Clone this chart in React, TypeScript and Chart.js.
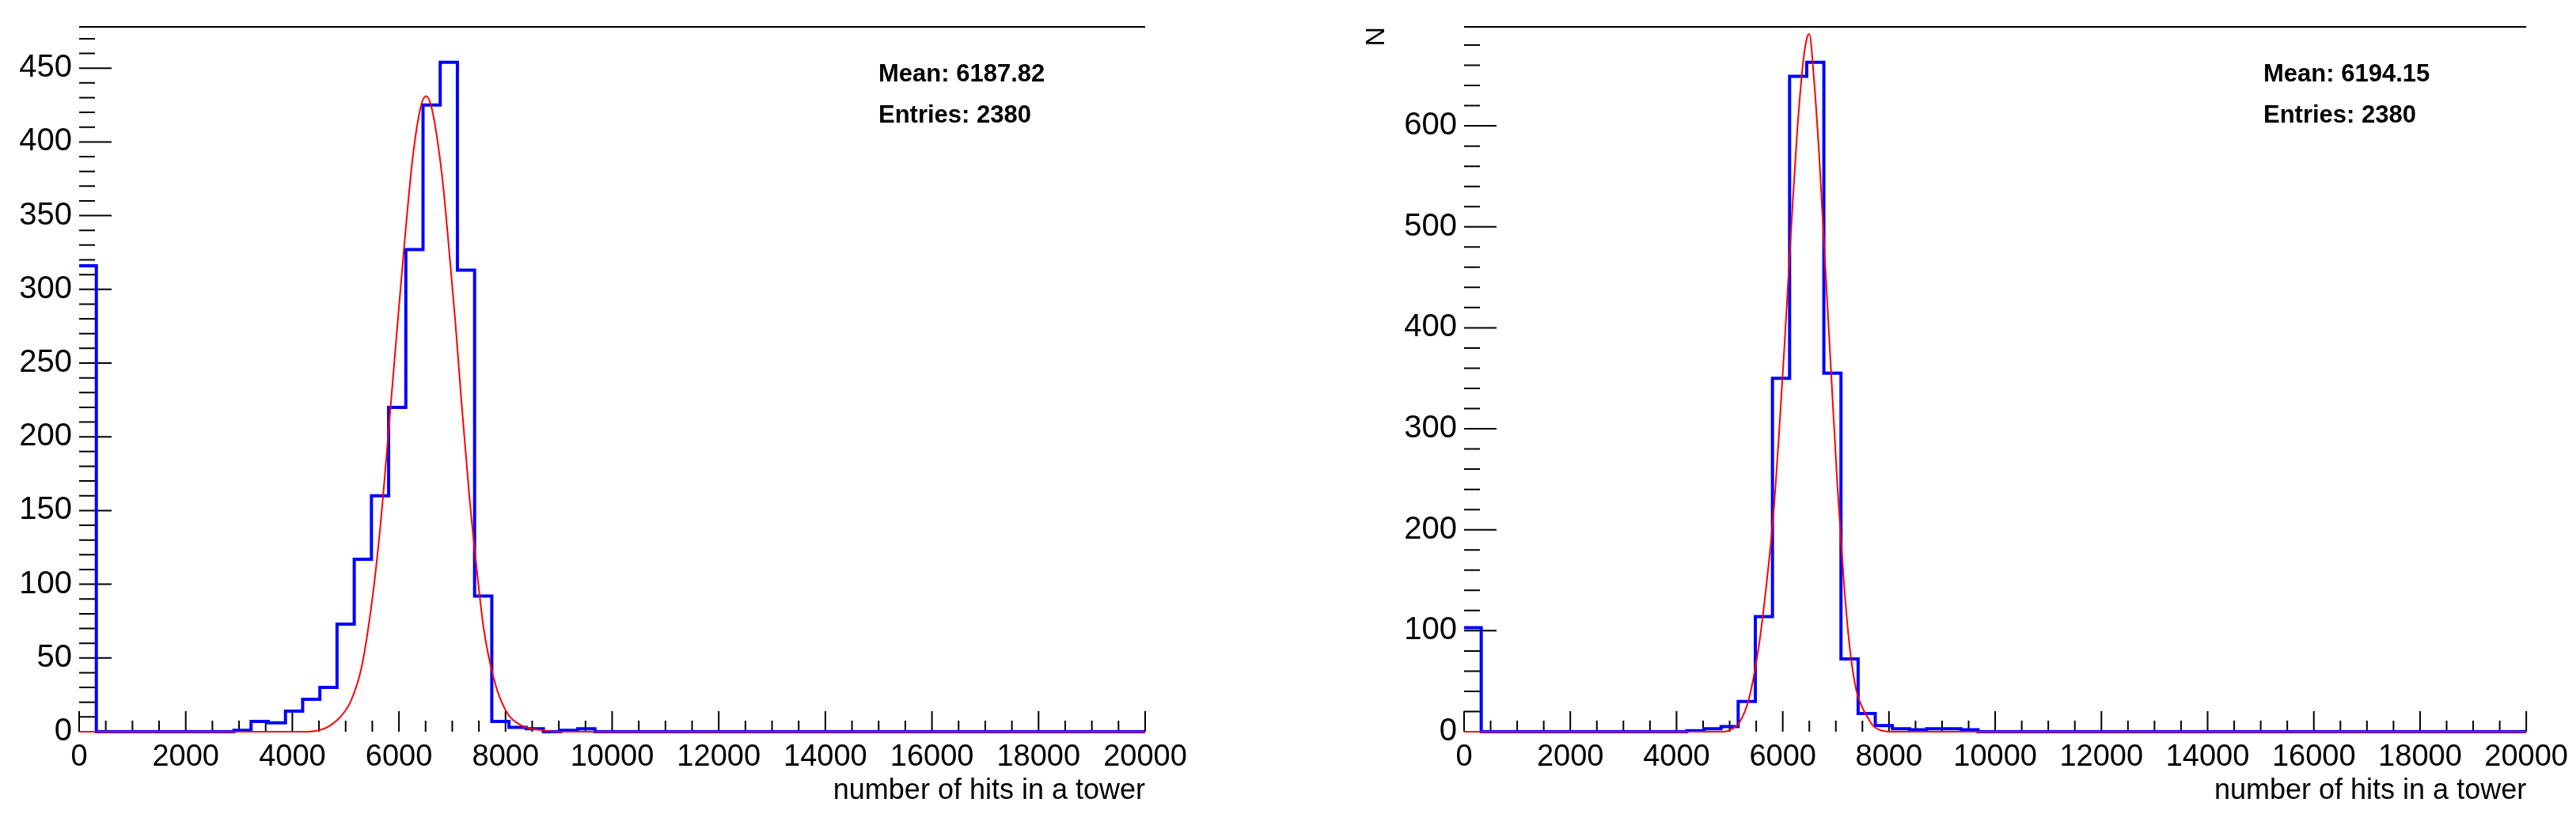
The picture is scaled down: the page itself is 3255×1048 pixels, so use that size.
import React, { useEffect, useRef } from "react";
import { Chart, registerables } from "chart.js";

Chart.register(...registerables);
Chart.defaults.font.family = "'Liberation Sans', Arial, Helvetica, sans-serif";
Chart.defaults.color = "#000";

// ---------- data ----------
const X_MIN = 0;
const X_MAX = 20000;
const N_BINS = 62;
const X_TICK_LABELS = [0, 2000, 4000, 6000, 8000, 10000, 12000, 14000, 16000, 18000, 20000];
const LEFT_Y_TICKS = [0, 50, 100, 150, 200, 250, 300, 350, 400, 450];
const RIGHT_Y_TICKS = [0, 100, 200, 300, 400, 500, 600];
const X_TITLE = "number of hits in a tower";
const RIGHT_Y_TITLE = "N";
const LEFT_STATS = ["Mean: 6187.82", "Entries: 2380"];
const RIGHT_STATS = ["Mean: 6194.15", "Entries: 2380"];

// counts per bin (62 bins over 0..20000)
const LEFT_COUNTS = [
  316, 0, 0, 0, 0, 0, 0, 0, 0, 1,
  7, 6, 14, 22, 30, 73, 117, 160, 220, 327,
  425, 454, 313, 92, 7, 3, 2, 0, 1, 2,
  0, 0, 0, 0, 0, 0, 0, 0, 0, 0,
  0, 0, 0, 0, 0, 0, 0, 0, 0, 0,
  0, 0, 0, 0, 0, 0, 0, 0, 0, 0,
  0, 0,
];
const RIGHT_COUNTS = [
  103, 0, 0, 0, 0, 0, 0, 0, 0, 0,
  0, 0, 0, 1, 3, 5, 30, 114, 350, 649,
  663, 355, 72, 18, 6, 3, 2, 3, 3, 2,
  0, 0, 0, 0, 0, 0, 0, 0, 0, 0,
  0, 0, 0, 0, 0, 0, 0, 0, 0, 0,
  0, 0, 0, 0, 0, 0, 0, 0, 0, 0,
  0, 0,
];

// fitted curve
const LEFT_FIT_X = [0, 4300, 4500, 4700, 4900, 5100, 5300, 5500, 5650, 5840, 6000, 6120, 6260, 6410, 6510, 6600, 6710, 6830, 6940, 7060, 7170, 7320, 7440, 7590, 7780, 8010, 8310, 8700, 9000, 20000];
const LEFT_FIT_Y = [0, 0, 1, 4, 10, 21, 44, 90, 139, 219, 288, 338, 390, 424, 431, 425, 404, 370, 327, 277, 225, 160, 117, 70, 36, 14, 4, 1, 0, 0];
const RIGHT_FIT_X = [0, 4900, 5050, 5170, 5360, 5550, 5700, 5820, 5930, 6040, 6160, 6270, 6390, 6460, 6500, 6590, 6690, 6800, 6920, 7030, 7150, 7260, 7380, 7490, 7600, 7700, 7870, 8100, 20000];
const RIGHT_FIT_Y = [0, 0, 3, 8, 32, 85, 149, 212, 295, 389, 499, 593, 666, 688, 691, 645, 567, 462, 347, 243, 149, 84, 42, 25, 14, 6, 1, 0, 0];

// ---------- helpers ----------
function histPoints(counts: number[]) {
  const w = (X_MAX - X_MIN) / N_BINS;
  const pts = counts.map((c, i) => ({ x: X_MIN + i * w, y: c }));
  pts.push({ x: X_MAX, y: counts[counts.length - 1] });
  return pts;
}
function curvePoints(xs: number[], ys: number[]) {
  return xs.map((x, i) => ({ x, y: ys[i] }));
}

const rootFrame = {
  id: "rootFrame",
  beforeDatasetsDraw(chart: any, _args: any, opts: any) {
    const { ctx, chartArea: a, scales } = chart;
    const x = scales.x;
    const y = scales.y;
    ctx.save();
    ctx.strokeStyle = "#000";
    ctx.lineWidth = 2;
    ctx.beginPath();
    ctx.moveTo(a.left, a.top);
    ctx.lineTo(a.right, a.top);
    for (let v = 0; v <= y.max; v += opts.yMinor) {
      const py = y.getPixelForValue(v);
      const len = v % opts.yMajor === 0 ? 41 : 20;
      ctx.moveTo(a.left, py);
      ctx.lineTo(a.left + len, py);
    }
    for (let v = X_MIN; v <= X_MAX; v += opts.xMinor) {
      const px = x.getPixelForValue(v);
      const len = v % opts.xMajor === 0 ? 26 : 14;
      ctx.moveTo(px, a.bottom);
      ctx.lineTo(px, a.bottom - len);
    }
    ctx.stroke();
    ctx.restore();
  },
  afterDatasetsDraw(chart: any, _args: any, opts: any) {
    const { ctx, chartArea: a } = chart;
    ctx.save();
    ctx.fillStyle = "#000";
    ctx.font = "bold 31px 'Liberation Sans', Arial, sans-serif";
    ctx.textAlign = "left";
    ctx.textBaseline = "alphabetic";
    (opts.stats as string[]).forEach((t, i) => {
      ctx.fillText(t, a.left + 1010, 103 + i * 52);
    });
    ctx.restore();
  },
};

type PanelCfg = {
  left: number;
  width: number;
  axisWidth: number;
  padRight: number;
  yMax: number;
  yTicks: number[];
  yMinor: number;
  yMajor: number;
  counts: number[];
  fitX: number[];
  fitY: number[];
  stats: string[];
  yTitle?: string;
};

function Panel({ cfg }: { cfg: PanelCfg }) {
  const ref = useRef<HTMLCanvasElement | null>(null);
  useEffect(() => {
    if (!ref.current) return;
    const chart = new Chart(ref.current, {
      type: "line",
      data: {
        datasets: [
          {
            label: "fit",
            data: curvePoints(cfg.fitX, cfg.fitY),
            borderColor: "#ff0000",
            borderWidth: 2,
            pointRadius: 0,
            fill: false,
            cubicInterpolationMode: "monotone",
            clip: false,
          } as any,
          {
            label: "hist",
            data: histPoints(cfg.counts),
            borderColor: "#0000ff",
            borderWidth: 4,
            pointRadius: 0,
            fill: false,
            stepped: "before",
            clip: false,
          } as any,
        ],
      },
      options: {
        animation: false,
        responsive: false,
        events: [],
        layout: { padding: { top: 34, right: cfg.padRight, bottom: 0, left: 0 } },
        plugins: {
          legend: { display: false },
          tooltip: { enabled: false },
          rootFrame: { yMinor: cfg.yMinor, yMajor: cfg.yMajor, xMinor: 500, xMajor: 2000, stats: cfg.stats },
        } as any,
        scales: {
          x: {
            type: "linear",
            min: X_MIN,
            max: X_MAX,
            afterBuildTicks: (s: any) => {
              s.ticks = X_TICK_LABELS.map((v) => ({ value: v }));
            },
            afterFit: (s: any) => {
              s.height = 123;
            },
            grid: { display: false, drawTicks: false },
            border: { display: false },
            ticks: {
              font: { size: 38 },
              color: "#000",
              padding: 10,
              maxRotation: 0,
              autoSkip: false,
              callback: (v: any) => String(v),
            },
            title: {
              display: true,
              text: X_TITLE,
              align: "end",
              color: "#000",
              font: { size: 36 },
              padding: { top: 0, bottom: 26 },
            },
          },
          y: {
            type: "linear",
            min: 0,
            max: cfg.yMax,
            afterBuildTicks: (s: any) => {
              s.ticks = cfg.yTicks.map((v) => ({ value: v }));
            },
            afterFit: (s: any) => {
              s.width = cfg.axisWidth;
            },
            grid: { display: false, drawTicks: false },
            border: { display: false },
            ticks: {
              font: { size: 40 },
              color: "#000",
              padding: 9,
              autoSkip: false,
              callback: (v: any) => String(v),
            },
            title: {
              display: !!cfg.yTitle,
              text: cfg.yTitle || "",
              align: "end",
              color: "#000",
              font: { size: 34 },
              padding: { top: 92, bottom: 0 },
            },
          },
        },
      } as any,
      plugins: [rootFrame as any],
    });
    return () => chart.destroy();
  }, []);
  return (
    <canvas
      ref={ref}
      width={cfg.width}
      height={1048}
      style={{ position: "absolute", left: cfg.left, top: 0, width: cfg.width, height: 1048 }}
    />
  );
}

const LEFT_CFG: PanelCfg = {
  left: 0,
  width: 1627,
  axisWidth: 100,
  padRight: 180,
  yMax: 478,
  yTicks: LEFT_Y_TICKS,
  yMinor: 10,
  yMajor: 50,
  counts: LEFT_COUNTS,
  fitX: LEFT_FIT_X,
  fitY: LEFT_FIT_Y,
  stats: LEFT_STATS,
};

const RIGHT_CFG: PanelCfg = {
  left: 1627,
  width: 1628,
  axisWidth: 223,
  padRight: 58,
  yMax: 698,
  yTicks: RIGHT_Y_TICKS,
  yMinor: 20,
  yMajor: 100,
  counts: RIGHT_COUNTS,
  fitX: RIGHT_FIT_X,
  fitY: RIGHT_FIT_Y,
  stats: RIGHT_STATS,
  yTitle: RIGHT_Y_TITLE,
};

export default function App() {
  return (
    <div style={{ position: "absolute", left: 0, top: 0, width: 3255, height: 1048, background: "#fff" }}>
      <Panel cfg={LEFT_CFG} />
      <Panel cfg={RIGHT_CFG} />
    </div>
  );
}
